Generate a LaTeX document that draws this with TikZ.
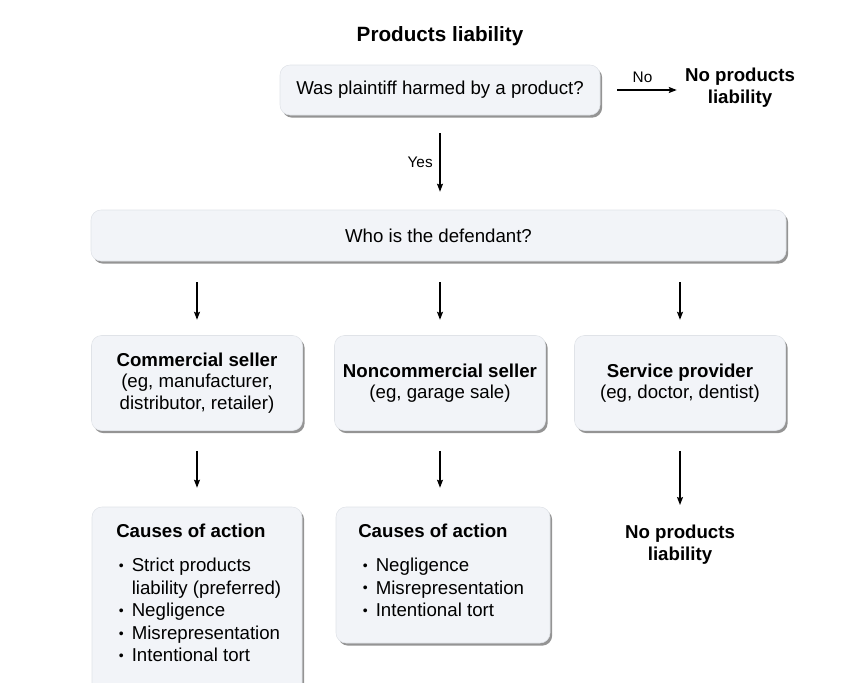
\documentclass[tikz,border=0pt]{standalone}
\usepackage{fontspec}
\setmainfont{Liberation Sans}
\usetikzlibrary{shadows,arrows.meta}
\definecolor{boxfill}{RGB}{242,244,248}
\definecolor{boxline}{RGB}{224,227,232}
\newcommand{\mybul}{\makebox[9.75pt][l]{\raisebox{0.8pt}{\fontsize{10.5}{10.5}\selectfont\textbullet}}}
\begin{document}
\begin{tikzpicture}[x=0.75pt,y=-0.75pt,
  box/.style={rectangle, rounded corners=7.5pt, fill=boxfill, draw=boxline, line width=0.4pt,
    drop shadow={shadow xshift=1.6pt, shadow yshift=-2pt, fill=black!70, opacity=0.6},
    inner sep=0pt, align=center, font=\fontsize{14}{16.1}\selectfont},
  arr/.style={-{Stealth[length=6pt,width=4.5pt,inset=1pt]}, line width=1pt},
  btxt/.style={inner sep=0pt, align=center, font=\fontsize{14}{16.1}\selectfont\bfseries},
  lbl/.style={inner sep=0pt, font=\fontsize{11.5}{13}\selectfont},
  listtxt/.style={inner sep=0pt, anchor=base west, font=\fontsize{14}{16.9}\selectfont}
]
\useasboundingbox (0,0) rectangle (846,682);
\clip (0,0) rectangle (846,682);

% title
\node[inner sep=0pt, font=\fontsize{15.5}{18}\selectfont\bfseries] (title) at (440,36.5) {Products liability};

% top question
\node[box, minimum width=240pt, minimum height=37.5pt] (top) at (440,90) {Was plaintiff harmed by a product?};
\node[btxt] (np1) at (740,87.7) {No products\\liability};
\draw[arr, shorten <=12.75pt, shorten >=6pt] (top.east) -- (top.east -| np1.west)
  node[lbl, midway, above=5pt] (nolbl) {No};

% defendant
\node[box, minimum width=521.25pt, minimum height=38.25pt] (wide) at (438.5,235.5) {Who is the defendant?};
\draw[arr, shorten <=13.5pt, shorten >=13.5pt] (top.south) -- (top.south |- wide.north)
  node[lbl, midway, left=5pt] (yeslbl) {Yes};

% middle row
\node[box, minimum width=158.25pt, minimum height=71.25pt] (c1) at (197,383)
  {\textbf{Commercial seller}\\(eg, manufacturer,\\distributor, retailer)};
\node[box, minimum width=158.25pt, minimum height=71.25pt] (c2) at (440,383)
  {\textbf{Noncommercial seller}\\(eg, garage sale)};
\node[box, minimum width=158.25pt, minimum height=71.25pt] (c3) at (680,383)
  {\textbf{Service provider}\\(eg, doctor, dentist)};

\foreach \c in {c1,c2,c3}
  \draw[arr, shorten <=15.75pt, shorten >=11.6pt] (wide.south -| \c.north) -- (\c.north);

% bottom row
\node[box, minimum width=157.5pt, minimum height=150pt] (b1) at (197,607) {};
\node[box, minimum width=160.5pt, minimum height=102pt] (b2) at (443,575) {};
\node[btxt] (np2) at (680,544.7) {No products\\liability};

\draw[arr, shorten <=15pt, shorten >=14.25pt] (c1.south) -- (c1.south |- b1.north);
\draw[arr, shorten <=15pt, shorten >=14.25pt] (c2.south) -- (c2.south |- b2.north);
\draw[arr, shorten <=15pt, shorten >=15pt] (c3.south) -- (c3.south |- np2.north);

% bottom-left content
\node[listtxt, font=\fontsize{14}{16.9}\selectfont\bfseries] (h1) at (116,537.5) {Causes of action};
\node[listtxt] (l1) at (118.5,571.5) {\begin{tabular}[t]{@{}l@{}l@{}}
\mybul & Strict products\\
 & liability (preferred)\\
\mybul & Negligence\\
\mybul & Misrepresentation\\
\mybul & Intentional tort
\end{tabular}};

% bottom-middle content
\node[listtxt, font=\fontsize{14}{16.9}\selectfont\bfseries] (h2) at (358,537.5) {Causes of action};
\node[listtxt] (l2) at (362.5,571.5) {\begin{tabular}[t]{@{}l@{}l@{}}
\mybul & Negligence\\
\mybul & Misrepresentation\\
\mybul & Intentional tort
\end{tabular}};
\end{tikzpicture}
\end{document}
